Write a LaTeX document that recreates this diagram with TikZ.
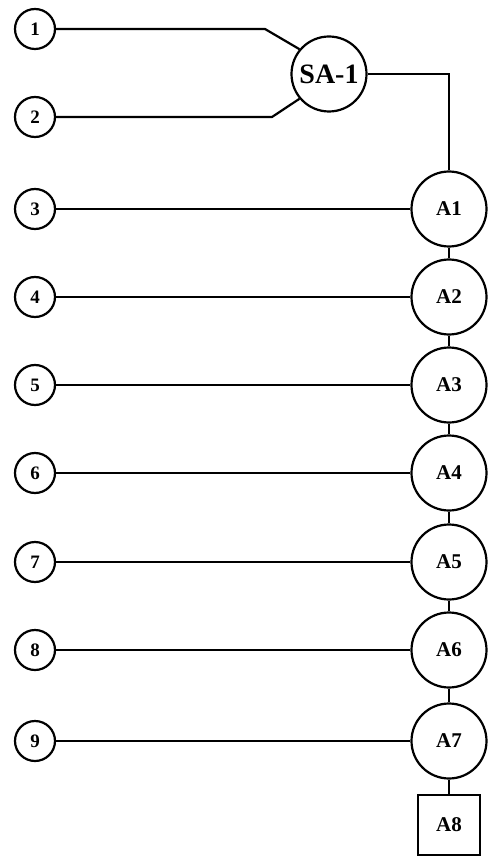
\documentclass[tikz,border=0pt]{standalone}
\usepackage{fontspec}
\setmainfont{Liberation Serif}
\begin{document}
\begin{tikzpicture}[x=1pt,y=-1pt,
  wire/.style={line width=2.2pt},
  inbox/.style={circle,draw,line width=2.2pt,minimum size=40pt,inner sep=0pt,font=\bfseries\fontsize{19}{19}\selectfont},
  stage/.style={circle,draw,line width=2.2pt,minimum size=75pt,inner sep=0pt,font=\bfseries\fontsize{21}{21}\selectfont},
  endbox/.style={rectangle,draw,line width=2.2pt,minimum width=62pt,minimum height=60pt,inner sep=0pt,font=\bfseries\fontsize{21}{21}\selectfont}]
\useasboundingbox (0,0) rectangle (489,858);

% input circles
\node[inbox] (i1) at (35,29) {1};
\node[inbox] (i2) at (35,117) {2};
\node[inbox] (i3) at (35,209) {3};
\node[inbox] (i4) at (35,297) {4};
\node[inbox] (i5) at (35,385) {5};
\node[inbox] (i6) at (35,473) {6};
\node[inbox] (i7) at (35,562) {7};
\node[inbox] (i8) at (35,650) {8};
\node[inbox] (i9) at (35,741) {9};

% summing node
\node[stage,font=\bfseries\fontsize{28}{28}\selectfont] (sa) at (329,74) {SA-1};

% stage column
\node[stage] (a1) at (449,209) {A1};
\node[stage] (a2) at (449,297) {A2};
\node[stage] (a3) at (449,385) {A3};
\node[stage] (a4) at (449,473) {A4};
\node[stage] (a5) at (449,562) {A5};
\node[stage] (a6) at (449,650) {A6};
\node[stage] (a7) at (449,741) {A7};
\node[endbox] (a8) at (449,825) {A8};

% bend points of the two upper inputs
\coordinate (b1) at (265,29);
\coordinate (b2) at (272,117);

\draw[wire] (i1.east) -- (b1) -- (sa.140);
\draw[wire] (i2.east) -- (b2) -- (sa.220);
\draw[wire] (sa.east) -| (a1.north);

\foreach \k in {3,...,9}{
  \pgfmathtruncatemacro{\j}{\k-2}
  \draw[wire] (i\k.east) -- (a\j.west);
}
\foreach \j [evaluate=\j as \n using int(\j+1)] in {1,...,7}{
  \draw[wire] (a\j.south) -- (a\n.north);
}
\end{tikzpicture}
\end{document}
